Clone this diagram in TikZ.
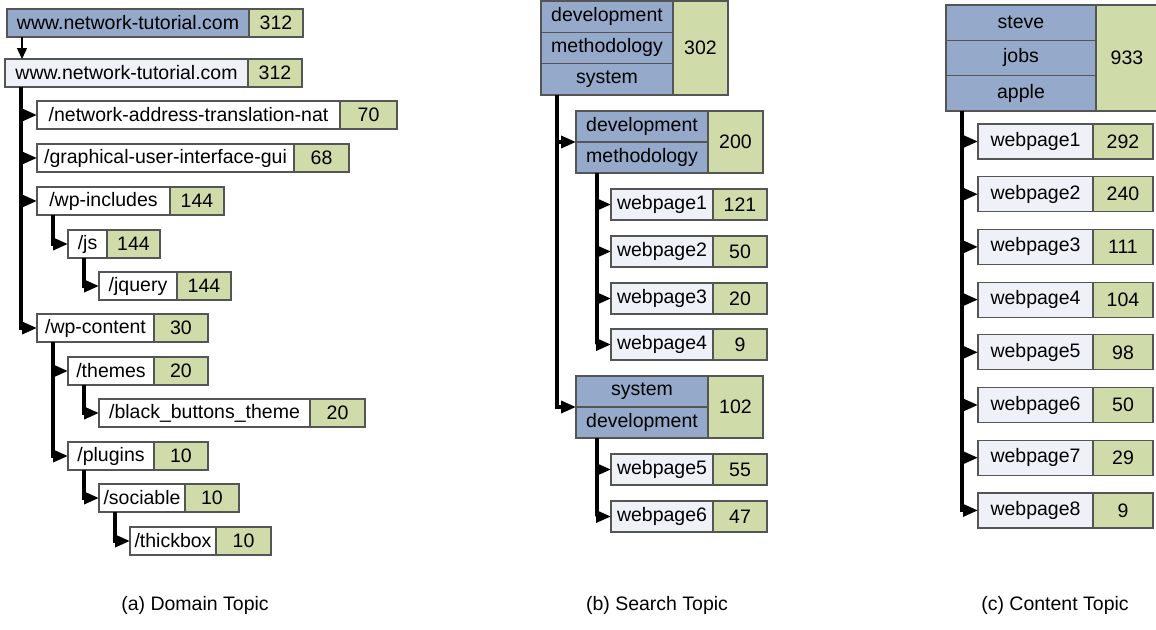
\documentclass[tikz,border=0pt]{standalone}
\usepackage{fontspec}
\setmainfont{Liberation Sans}
\usetikzlibrary{positioning,arrows.meta}

\definecolor{keyblue}{HTML}{95AACB}
\definecolor{countgreen}{HTML}{D0DBAA}
\definecolor{pagegray}{HTML}{EEF2F8}
\definecolor{boxline}{HTML}{555555}

\tikzset{
  cell/.style={draw=boxline, line width=1.2pt, inner sep=0pt, outer sep=0pt,
    anchor=north west, font=\fontsize{19.5}{22}\selectfont},
  keycell/.style={cell, fill=keyblue},
  dircell/.style={cell, fill=white, minimum height=28},
  pagecell/.style={cell, fill=pagegray},
  countcell/.style={cell, fill=countgreen},
  link/.style={line width=3.5pt, -{Triangle[length=15pt,width=12pt]}},
  caption/.style={font=\fontsize{19.5}{22}\selectfont},
}

\begin{document}
\begin{tikzpicture}[x=1pt,y=-1pt]
			\useasboundingbox (0,0) rectangle (1156,629);
			
			% (a) Domain Topic
			\node[keycell, minimum width=242, minimum height=28] (www1) at (7,9) {www.network-tutorial.com};
			\node[countcell, minimum width=54, minimum height=28, right=0pt of www1] (www1n) {312};
			\node[pagecell, minimum width=243, minimum height=28] (www2) at (5,59) {www.network-tutorial.com};
			\node[countcell, minimum width=54, minimum height=28, right=0pt of www2] (www2n) {312};
			
			\node[dircell, minimum width=303] (nat) at (37,101) {/network-address-translation-nat};
			\node[countcell, minimum width=57, minimum height=28, right=0pt of nat] (natn) {70};
			\node[dircell, minimum width=257] (gui) at (37,144) {/graphical-user-interface-gui};
			\node[countcell, minimum width=55, minimum height=28, right=0pt of gui] (guin) {68};
			\node[dircell, minimum width=133] (wpinc) at (37,187) {/wp-includes};
			\node[countcell, minimum width=54, minimum height=28, right=0pt of wpinc] (wpincn) {144};
			\node[dircell, minimum width=39] (js) at (68,230) {/js};
			\node[countcell, minimum width=53, minimum height=28, right=0pt of js] (jsn) {144};
			\node[dircell, minimum width=78] (jquery) at (99,272) {/jquery};
			\node[countcell, minimum width=54, minimum height=28, right=0pt of jquery] (jqueryn) {144};
			\node[dircell, minimum width=117] (wpcont) at (37,314) {/wp-content};
			\node[countcell, minimum width=54, minimum height=28, right=0pt of wpcont] (wpcontn) {30};
			\node[dircell, minimum width=86] (themes) at (68,357) {/themes};
			\node[countcell, minimum width=54, minimum height=28, right=0pt of themes] (themesn) {20};
			\node[dircell, minimum width=211] (black) at (99,399) {/black\_buttons\_theme};
			\node[countcell, minimum width=55, minimum height=28, right=0pt of black] (blackn) {20};
			\node[dircell, minimum width=86] (plugins) at (68,442) {/plugins};
			\node[countcell, minimum width=54, minimum height=28, right=0pt of plugins] (pluginsn) {10};
			\node[dircell, minimum width=86] (sociable) at (99,484) {/sociable};
			\node[countcell, minimum width=54, minimum height=28, right=0pt of sociable] (sociablen) {10};
			\node[dircell, minimum width=86] (thickbox) at (130,527) {/thickbox};
			\node[countcell, minimum width=55, minimum height=28, right=0pt of thickbox] (thickboxn) {10};
			
			\coordinate (wwwdrop) at ([xshift=15]www1.south west);
			\draw[line width=1.5pt, -{Triangle[length=11pt,width=10pt]}] (wwwdrop) -- (wwwdrop |- www2.north);
			
			\foreach \kid in {nat,gui,wpinc,wpcont}
				\draw[link] ([xshift=16]www2.south west) |- (\kid.west);
			\draw[link] ([xshift=16]wpinc.south west) |- (js.west);
			\draw[link] ([xshift=16]js.south west) |- (jquery.west);
			\foreach \kid in {themes,plugins}
				\draw[link] ([xshift=16]wpcont.south west) |- (\kid.west);
			\draw[link] ([xshift=16]themes.south west) |- (black.west);
			\draw[link] ([xshift=16]plugins.south west) |- (sociable.west);
			\draw[link] ([xshift=16]sociable.south west) |- (thickbox.west);
			
			% (b) Search Topic
			\node[keycell, minimum width=132, minimum height=31.3] (bdev) at (541,1) {development};
			\node[keycell, minimum width=132, minimum height=31.3, below=0pt of bdev] (bmeth) {methodology};
			\node[keycell, minimum width=132, minimum height=31.3, below=0pt of bmeth] (bsys) {system};
			\node[countcell, minimum width=55, minimum height=94] (bcount) at (bdev.north east) {302};
			
			\node[keycell, minimum width=132, minimum height=31] (sdev) at (576,111) {development};
			\node[keycell, minimum width=132, minimum height=31, below=0pt of sdev] (smeth) {methodology};
			\node[countcell, minimum width=55, minimum height=62] (scount) at (sdev.north east) {200};
			
			\node[keycell, minimum width=132, minimum height=31] (tsys) at (576,376) {system};
			\node[keycell, minimum width=132, minimum height=31, below=0pt of tsys] (tdev) {development};
			\node[countcell, minimum width=55, minimum height=62] (tcount) at (tsys.north east) {102};
			
			\foreach \i/\y/\n in {1/189/121, 2/236/50, 3/283/20, 4/329/9, 5/454/55, 6/501/47} {
				\node[pagecell, minimum width=102, minimum height=31] (bpage\i) at (611,\y) {webpage\i};
				\node[countcell, minimum width=54, minimum height=31, right=0pt of bpage\i] (bpagen\i) {\n};
			}
			
			\draw[link] ([xshift=16]bsys.south west) |- (sdev.south west);
			\draw[link] ([xshift=16]bsys.south west) |- (tsys.south west);
			\foreach \i in {1,...,4}
				\draw[link] ([xshift=21]smeth.south west) |- (bpage\i.west);
			\foreach \i in {5,6}
				\draw[link] ([xshift=21]tdev.south west) |- (bpage\i.west);
			
			% (c) Content Topic
			\node[keycell, minimum width=150, minimum height=35.3] (steve) at (946,5) {steve};
			\node[keycell, minimum width=150, minimum height=35.3, below=0pt of steve] (jobs) {jobs};
			\node[keycell, minimum width=150, minimum height=35.3, below=0pt of jobs] (apple) {apple};
			\node[countcell, minimum width=62, minimum height=106] (ccount) at (steve.north east) {933};
			
			\foreach \i/\n in {1/292, 2/240, 3/111, 4/104, 5/98, 6/50, 7/29, 8/9} {
				\node[pagecell, minimum width=115, minimum height=35] (cpage\i) at (978,{124+52.7*(\i-1)}) {webpage\i};
				\node[countcell, minimum width=60, minimum height=35, right=0pt of cpage\i] (cpagen\i) {\n};
				\draw[link] ([xshift=16]apple.south west) |- (cpage\i.west);
			}
			
			% captions
			\node[caption] (capa) at (195,605) {(a) Domain Topic};
			\node[caption] (capb) at (657,605) {(b) Search Topic};
			\node[caption] (capc) at (1055,605) {(c) Content Topic};
		\end{tikzpicture}
\end{document}
